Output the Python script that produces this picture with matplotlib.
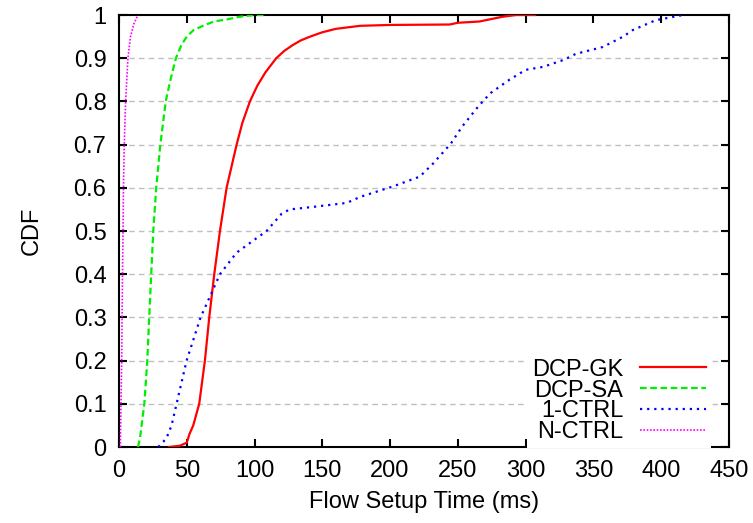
import numpy as np
import matplotlib
matplotlib.use("Agg")
import matplotlib.pyplot as plt

# datos (ms, CDF)
gk_x = [37, 45, 50, 52, 54.8, 59.2, 63.4, 66.6, 70.3, 74.5, 79.4, 86.8, 91, 96.6, 102, 108, 116, 122, 128, 134, 141, 150, 160, 178, 200, 244, 250, 266, 283, 293, 307]
gk_y = [0, 0.003, 0.01, 0.03, 0.05, 0.1, 0.2, 0.3, 0.4, 0.5, 0.6, 0.7, 0.75, 0.8, 0.836, 0.867, 0.9, 0.917, 0.93, 0.941, 0.95, 0.96, 0.968, 0.975, 0.977, 0.978, 0.982, 0.985, 0.996, 1.0, 1.0]

sa_x = [14, 15.5, 18.7, 20.9, 22.3, 23.8, 25.3, 27.5, 30.5, 34.5, 38, 42, 46, 50, 55, 62, 70, 80, 89, 100, 108]
sa_y = [0, 0.02, 0.1, 0.2, 0.3, 0.4, 0.5, 0.6, 0.7, 0.8, 0.85, 0.9, 0.93, 0.95, 0.965, 0.975, 0.985, 0.99, 0.996, 1.0, 1.0]

c1_x = [29, 35, 38.8, 42.5, 49.9, 60.2, 74.5, 86.8, 100, 108.9, 120, 126, 141, 168, 178, 202, 222, 232, 245, 253, 265, 274, 288, 300, 313, 328, 337, 357, 372, 379, 396, 416]
c1_y = [0, 0.02, 0.05, 0.1, 0.2, 0.3, 0.4, 0.45, 0.48, 0.5, 0.54, 0.55, 0.555, 0.565, 0.579, 0.603, 0.626, 0.657, 0.703, 0.741, 0.788, 0.819, 0.85, 0.873, 0.88, 0.896, 0.91, 0.926, 0.95, 0.965, 0.988, 1.0]

cn_x = [1, 1.5, 2, 2.3, 2.6, 3, 3.3, 3.9, 4.9, 6.6, 8.5, 11, 14]
cn_y = [0, 0.1, 0.2, 0.3, 0.4, 0.5, 0.6, 0.7, 0.8, 0.9, 0.95, 0.98, 1.0]

xticks = [0, 50, 100, 150, 200, 250, 300, 350, 400, 450]
yticks = [0, 0.1, 0.2, 0.3, 0.4, 0.5, 0.6, 0.7, 0.8, 0.9, 1]
ylabels = ["0", "0.1", "0.2", "0.3", "0.4", "0.5", "0.6", "0.7", "0.8", "0.9", "1"]

plt.rcParams['font.family'] = ['Liberation Sans', 'DejaVu Sans']
plt.rcParams['font.size'] = 17

fig = plt.figure(figsize=(7.53, 5.23), dpi=100)
ax = fig.add_axes([0.158, 0.1453, 0.81, 0.826])

ax.plot(gk_x, gk_y, color='#ff0000', lw=1.6, ls='-', label='DCP-GK', zorder=4)
ax.plot(sa_x, sa_y, color='#00ee00', lw=1.6, ls=(0, (3, 1.6)), label='DCP-SA', zorder=4)
ax.plot(c1_x, c1_y, color='#0000ff', lw=1.6, ls=(0, (1, 2.2)), label='1-CTRL', zorder=4)
ax.plot(cn_x, cn_y, color='#ff00ff', lw=1.2, ls=(0, (1, 1)), label='N-CTRL', zorder=4)

ax.set_xlim(0, 450)
ax.set_ylim(0, 1)
ax.set_xticks(xticks)
ax.set_yticks(yticks)
ax.set_yticklabels(ylabels)

#grid solo horizontal
for g in yticks[1:-1]:
    ax.axhline(g, color='#c0c0c0', lw=1, ls=(0, (4, 3)), zorder=1)

ax.tick_params(direction='in', top=True, right=True, length=6, width=1.5, pad=9)
for s in ax.spines.values():
    s.set_linewidth(1.5)

ax.set_xlabel("Flow Setup Time (ms)", labelpad=7)
ax.set_ylabel("CDF", labelpad=22)

leg = ax.legend(loc='lower right', bbox_to_anchor=(0.970, -0.002), markerfirst=False,
                frameon=True, fancybox=False, framealpha=1, edgecolor='none',
                handlelength=2.8, handletextpad=0.7, labelspacing=-0.05,
                borderpad=0.2, borderaxespad=0)

fig.savefig("out.png", dpi=100)
